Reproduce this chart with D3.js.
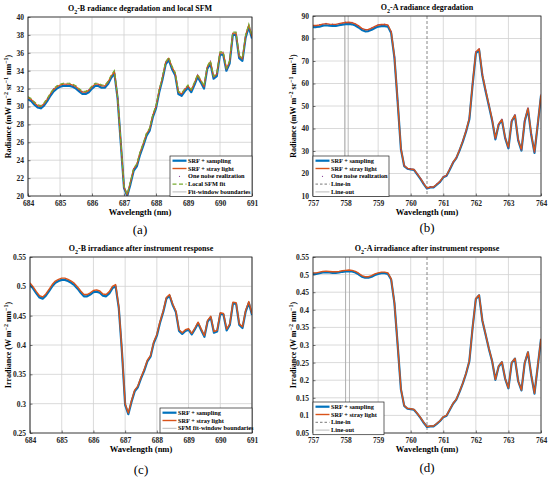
<!DOCTYPE html>
<html>
<head>
<meta charset="utf-8">
<script src="https://cdn.jsdelivr.net/npm/d3@7"></script>
<style>
body { margin: 0; background: #fff; }
text { font-family: "Liberation Serif", "Times New Roman", serif; }
</style>
</head>
<body>
<div id="wrapper"></div>
<script>
// wavelength grids (0.1 nm sampling)
const wlB = d3.range(0, 71).map(i => +(684 + i * 0.1).toFixed(1));
const wlA = d3.range(0, 71).map(i => +(757 + i * 0.1).toFixed(1));

// (a) O2-B radiance
const radB_sampling = [
    30.8,30.6,30.2,29.9,29.8,30.1,30.6,31.2,31.7,32.0,
    32.2,32.3,32.3,32.3,32.2,32.0,31.7,31.4,31.4,31.6,
    32.0,32.3,32.3,32.1,32.1,32.5,33.2,33.7,30.9,25.9,
    20.9,20.0,21.3,22.8,23.3,24.6,25.6,26.7,27.3,28.8,
    29.8,31.6,33.0,34.7,35.2,34.2,33.5,31.4,31.2,31.7,
    32.1,31.6,32.4,33.3,32.7,32.0,34.2,34.8,33.1,33.4,
    35.8,35.8,34.0,34.8,38.0,38.0,35.4,35.1,37.7,38.9,
    37.6];
const radB_stray = [
    31.0,30.8,30.4,30.1,30.0,30.3,30.8,31.4,31.9,32.2,
    32.4,32.5,32.5,32.5,32.4,32.2,31.9,31.6,31.6,31.8,
    32.2,32.5,32.5,32.3,32.3,32.7,33.4,33.9,31.0,26.0,
    21.0,20.1,21.5,23.0,23.5,24.8,25.8,26.9,27.5,29.0,
    30.0,31.8,33.2,34.9,35.4,34.4,33.7,31.6,31.4,31.9,
    32.3,31.8,32.6,33.5,32.9,32.2,34.4,35.0,33.3,33.6,
    36.0,36.0,34.2,35.0,38.2,38.2,35.6,35.3,37.9,39.1,
    37.8];
const radB_noise = [
    31.1,30.7,30.5,30.0,30.1,30.2,30.9,31.3,32.0,32.3,
    32.3,32.6,32.4,32.6,32.3,32.3,31.8,31.7,31.5,31.9,
    32.1,32.6,32.4,32.4,32.2,32.8,33.3,34.0,30.9,26.1,
    20.9,20.2,21.4,23.1,23.4,24.9,25.7,27.0,27.4,29.1,
    29.9,31.9,33.1,35.0,35.3,34.5,33.6,31.7,31.3,32.0,
    32.2,31.9,32.5,33.6,32.8,32.3,34.3,35.1,33.2,33.7,
    35.9,36.1,34.1,35.1,38.1,38.3,35.5,35.4,37.8,39.2,
    37.7];
const radB_sfm = [
    31.1,30.9,30.5,30.2,30.1,30.4,30.9,31.5,32.0,32.3,
    32.5,32.6,32.6,32.6,32.5,32.3,32.0,31.7,31.7,31.9,
    32.3,32.6,32.6,32.4,32.4,32.8,33.5,34.0,31.1,26.1,
    21.1,20.2,21.6,23.1,23.6,24.9,25.9,27.0,27.6,29.1,
    30.1,31.9,33.3,35.0,35.5,34.5,33.8,31.7,31.5,32.0,
    32.4,31.9,32.7,33.6,33.0,32.3,34.5,35.1,33.4,33.7,
    36.1,36.1,34.3,35.1,38.3,38.3,35.7,35.4,38.0,39.2,
    37.9];

// (b) O2-A radiance
const radA_sampling = [
    85.1,85.1,85.3,85.7,85.9,85.7,85.6,85.6,85.9,86.2,
    86.4,86.5,86.3,85.8,84.9,83.8,83.2,83.3,83.9,84.7,
    85.3,85.5,85.5,85.3,82.4,71.5,51.6,30.8,23.3,22.1,
    21.8,21.6,19.6,17.6,15.3,13.3,13.8,13.8,15.0,16.3,
    18.3,19.0,21.8,24.8,26.8,30.3,34.2,38.7,44.1,59.5,
    73.4,74.9,63.5,56.6,50.1,43.6,35.2,41.7,43.7,35.7,
    31.2,43.2,45.7,34.7,30.2,43.2,48.6,37.2,29.2,41.7,
    54.6];
const radA_stray = [
    85.8,85.8,86.0,86.4,86.6,86.4,86.3,86.3,86.6,86.9,
    87.1,87.2,87.0,86.5,85.6,84.5,83.9,84.0,84.6,85.4,
    86.0,86.2,86.2,86.0,83.0,72.0,52.0,31.0,23.5,22.3,
    22.0,21.8,19.8,17.8,15.5,13.5,14.0,14.0,15.2,16.5,
    18.5,19.2,22.0,25.0,27.0,30.5,34.5,39.0,44.5,60.0,
    74.0,75.5,64.0,57.0,50.5,44.0,35.5,42.0,44.0,36.0,
    31.5,43.5,46.0,35.0,30.5,43.5,49.0,37.5,29.5,42.0,
    55.0];
const radA_noise = [
    85.9,85.6,86.2,86.3,86.8,86.3,86.5,86.1,86.7,86.8,
    87.3,87.0,87.2,86.4,85.8,84.3,84.1,83.8,84.8,85.2,
    86.2,86.0,86.4,85.8,83.2,71.8,52.3,30.7,23.7,22.1,
    22.2,21.6,20.0,17.6,15.7,13.3,14.2,13.8,15.4,16.3,
    18.7,19.0,22.2,24.8,27.2,30.3,34.7,38.8,44.7,59.8,
    74.2,75.3,64.2,56.8,50.7,43.8,35.7,41.8,44.2,35.8,
    31.7,43.3,46.2,34.8,30.7,43.3,49.2,37.3,29.7,41.8,
    55.2];

// (c) O2-B irradiance
const irrB_sampling = [
    0.503,0.496,0.488,0.481,0.479,0.484,0.492,0.500,0.506,0.509,
    0.511,0.511,0.509,0.506,0.502,0.496,0.489,0.483,0.483,0.486,
    0.490,0.491,0.489,0.484,0.483,0.488,0.497,0.500,0.463,0.388,
    0.298,0.282,0.303,0.321,0.328,0.343,0.356,0.372,0.380,0.403,
    0.416,0.438,0.456,0.479,0.484,0.468,0.456,0.424,0.419,0.424,
    0.426,0.418,0.427,0.437,0.425,0.414,0.440,0.447,0.421,0.423,
    0.453,0.452,0.425,0.434,0.471,0.470,0.434,0.429,0.457,0.472,
    0.451];
const irrB_stray = [
    0.506,0.499,0.491,0.484,0.482,0.487,0.495,0.503,0.509,0.512,
    0.514,0.514,0.512,0.509,0.505,0.499,0.492,0.486,0.486,0.489,
    0.493,0.494,0.492,0.487,0.486,0.491,0.500,0.503,0.465,0.390,
    0.300,0.284,0.305,0.323,0.330,0.345,0.358,0.374,0.382,0.405,
    0.418,0.440,0.458,0.481,0.486,0.470,0.458,0.426,0.421,0.426,
    0.428,0.420,0.429,0.439,0.427,0.416,0.442,0.449,0.423,0.425,
    0.455,0.454,0.427,0.436,0.473,0.472,0.436,0.431,0.459,0.474,
    0.453];

// (d) O2-A irradiance
const irrA_sampling = [
    0.502,0.502,0.504,0.506,0.507,0.506,0.505,0.505,0.506,0.508,
    0.509,0.510,0.509,0.506,0.501,0.494,0.491,0.491,0.494,0.499,
    0.502,0.504,0.504,0.502,0.486,0.419,0.299,0.174,0.127,0.119,
    0.118,0.116,0.105,0.093,0.079,0.067,0.069,0.069,0.076,0.084,
    0.095,0.099,0.116,0.133,0.145,0.167,0.191,0.219,0.254,0.349,
    0.431,0.441,0.369,0.329,0.289,0.254,0.201,0.239,0.251,0.204,
    0.177,0.249,0.261,0.197,0.171,0.249,0.279,0.214,0.162,0.239,
    0.317];
const irrA_stray = [
    0.505,0.505,0.507,0.509,0.510,0.509,0.508,0.508,0.509,0.511,
    0.512,0.513,0.512,0.509,0.504,0.497,0.494,0.494,0.497,0.502,
    0.505,0.507,0.507,0.505,0.488,0.420,0.300,0.175,0.128,0.120,
    0.119,0.117,0.106,0.094,0.080,0.068,0.070,0.070,0.077,0.085,
    0.096,0.100,0.117,0.134,0.146,0.168,0.192,0.220,0.255,0.350,
    0.432,0.442,0.370,0.330,0.290,0.255,0.202,0.240,0.252,0.205,
    0.178,0.250,0.262,0.198,0.172,0.250,0.280,0.215,0.163,0.240,
    0.318];

const xTicksB = [684, 685, 686, 687, 688, 689, 690, 691];
const xTicksA = [757, 758, 759, 760, 761, 762, 763, 764];
const yTicksRadB = [20, 22, 24, 26, 28, 30, 32, 34, 36, 38, 40];
const yTicksRadA = [10, 20, 30, 40, 50, 60, 70, 80, 90];
const yTicksIrrB = [0.25, 0.3, 0.35, 0.4, 0.45, 0.5, 0.55];
const yTicksIrrA = [0.05, 0.1, 0.15, 0.2, 0.25, 0.3, 0.35, 0.4, 0.45, 0.5, 0.55];

const BLUE = "#0072BD", ORANGE = "#D95319", GREEN = "#77AC30", PURPLE = "#7E2F8E";

const svg = d3.select("#wrapper").append("svg")
    .attr("width", 550)
    .attr("height", 480);

function richText(sel, parts) {
    // parts: [text, "sub"|"sup"|null]
    let shift = 0;
    parts.forEach(p => {
        const t = sel.append("tspan").text(p[0]);
        let target = 0;
        if (p[1] === "sub") { target = 2.5; t.style("font-size", "0.75em"); }
        if (p[1] === "sup") { target = -3.5; t.style("font-size", "0.75em"); }
        t.attr("dy", target - shift);
        shift = target;
    });
}

function drawPanel(p, idx) {
    const g = svg.append("g");
    const x = d3.scaleLinear().domain(p.xDomain).range([p.left, p.right]);
    const y = d3.scaleLinear().domain(p.yDomain).range([p.bottom, p.top]);

    const clipId = "clip" + idx;
    g.append("clipPath").attr("id", clipId)
        .append("rect")
        .attr("x", p.left).attr("y", p.top)
        .attr("width", p.right - p.left).attr("height", p.bottom - p.top);

    // grid
    g.append("g").selectAll("line").data(p.xTicks).enter().append("line")
        .attr("x1", d => x(d)).attr("x2", d => x(d))
        .attr("y1", p.top).attr("y2", p.bottom)
        .attr("stroke", "#d0d0d0").attr("stroke-width", 0.8);
    g.append("g").selectAll("line").data(p.yTicks).enter().append("line")
        .attr("x1", p.left).attr("x2", p.right)
        .attr("y1", d => y(d)).attr("y2", d => y(d))
        .attr("stroke", "#d0d0d0").attr("stroke-width", 0.8);

    // reference lines
    g.append("g").selectAll("line").data(p.vlines).enter().append("line")
        .attr("x1", d => x(d.x)).attr("x2", d => x(d.x))
        .attr("y1", p.top).attr("y2", p.bottom)
        .attr("stroke", d => d.dash ? "#6a6a6a" : "#a8a8a8")
        .attr("stroke-width", 0.8)
        .attr("stroke-dasharray", d => d.dash ? "3,2" : null);

    const plot = g.append("g").attr("clip-path", `url(#${clipId})`);
    const line = d3.line().x(d => x(d[0])).y(d => y(d[1]));
    p.series.forEach(s => {
        plot.append("path")
            .datum(p.wl.map((w, i) => [w, s.values[i]]))
            .attr("d", line)
            .attr("fill", "none")
            .attr("stroke", s.color)
            .attr("stroke-width", s.width)
            .attr("stroke-linejoin", "round")
            .attr("stroke-dasharray", s.dash || null);
    });
    if (p.noise) {
        plot.append("g").selectAll("circle")
            .data(p.wl.map((w, i) => [w, p.noise[i]]))
            .enter().append("circle")
            .attr("cx", d => x(d[0])).attr("cy", d => y(d[1]))
            .attr("r", 0.5).attr("fill", PURPLE);
    }
    if (p.sfm) {
        plot.append("path")
            .datum(p.wl.map((w, i) => [w, p.sfm[i]]))
            .attr("d", line)
            .attr("fill", "none")
            .attr("stroke", GREEN)
            .attr("stroke-width", 1.2)
            .attr("stroke-dasharray", "4,2.5");
    }

    // axes
    const xAxis = d3.axisBottom(x).tickValues(p.xTicks).tickSize(-2.5).tickPadding(5).tickFormat(d3.format("d"));
    const yAxis = d3.axisLeft(y).tickValues(p.yTicks).tickSize(-2.5).tickPadding(4).tickFormat(d => String(+d.toFixed(2)));
    const gx = g.append("g").attr("transform", `translate(0,${p.bottom})`).call(xAxis);
    const gy = g.append("g").attr("transform", `translate(${p.left},0)`).call(yAxis);
    [gx, gy].forEach(a => {
        a.select(".domain").remove();
        a.selectAll("line").attr("stroke", "#222").attr("stroke-width", 0.6);
        a.selectAll("text").style("font-family", '"Liberation Serif", serif')
            .style("font-size", "7.5px").style("font-weight", "bold").attr("fill", "#222");
    });
    g.append("rect")
        .attr("x", p.left).attr("y", p.top)
        .attr("width", p.right - p.left).attr("height", p.bottom - p.top)
        .attr("fill", "none").attr("stroke", "#222").attr("stroke-width", 0.8);

    // title
    const title = g.append("text")
        .attr("x", (p.left + p.right) / 2).attr("y", p.top - 6)
        .attr("text-anchor", "middle")
        .style("font-size", "8px").style("font-weight", "bold");
    richText(title, p.title);

    // x label
    g.append("text")
        .attr("x", (p.left + p.right) / 2).attr("y", p.bottom + 19)
        .attr("text-anchor", "middle")
        .style("font-size", "8.5px").style("font-weight", "bold")
        .text("Wavelength (nm)");

    // y label
    const yl = g.append("text")
        .attr("transform", `translate(${p.ylabelX},${(p.top + p.bottom) / 2}) rotate(-90)`)
        .attr("text-anchor", "middle")
        .style("font-size", "8px").style("font-weight", "bold");
    richText(yl, p.ylabel);

    // legend
    const L = p.legend;
    const lg = g.append("g");
    lg.append("rect")
        .attr("x", L.x).attr("y", L.y)
        .attr("width", L.w).attr("height", L.items.length * 7.8 + 1.5)
        .attr("fill", "#fff").attr("stroke", "#222").attr("stroke-width", 0.7);
    L.items.forEach((it, i) => {
        const cy = L.y + 4.7 + i * 7.8;
        if (it.type === "dot") {
            lg.append("circle").attr("cx", L.x + 9.5).attr("cy", cy).attr("r", 0.6).attr("fill", PURPLE);
        } else {
            lg.append("line")
                .attr("x1", L.x + 2.5).attr("x2", L.x + 16.5)
                .attr("y1", cy).attr("y2", cy)
                .attr("stroke", it.color).attr("stroke-width", it.width)
                .attr("stroke-dasharray", it.dash || null);
        }
        lg.append("text")
            .attr("x", L.x + 18).attr("y", cy + 2.1)
            .style("font-size", "6.3px").style("font-weight", "bold")
            .text(it.label);
    });

    // panel tag
    g.append("text")
        .attr("x", (p.left + p.right) / 2).attr("y", p.tagY)
        .attr("text-anchor", "middle")
        .style("font-size", "13px")
        .text(p.tag);
}

const itemSampling = { label: "SRF + sampling", color: BLUE, width: 2.2 };
const itemStray = { label: "SRF + stray light", color: ORANGE, width: 1.4 };
const itemNoise = { label: "One noise realization", type: "dot" };
const itemLineIn = { label: "Line-in", color: "#555", width: 0.8, dash: "2.5,2" };
const itemLineOut = { label: "Line-out", color: "#a8a8a8", width: 0.8 };

const panels = [
    {
        left: 28, right: 252, top: 17, bottom: 196, tagY: 234,
        wl: wlB, xDomain: [684, 691], yDomain: [20, 40], xTicks: xTicksB, yTicks: yTicksRadB,
        series: [
            { values: radB_sampling, color: BLUE, width: 2.2 },
            { values: radB_stray, color: ORANGE, width: 1.3 }
        ],
        noise: radB_noise, sfm: radB_sfm,
        vlines: [{ x: 684 }, { x: 691 }],
        title: [["O", null], ["2", "sub"], ["-B radiance degradation and local SFM", null]],
        ylabel: [["Radiance (mW m", null], ["\u22122", "sup"], [" sr", null], ["\u22121", "sup"], [" nm", null], ["\u22121", "sup"], [")", null]],
        ylabelX: 11,
        legend: { x: 170, y: 156, w: 82, items: [itemSampling, itemStray, itemNoise,
            { label: "Local SFM fit", color: GREEN, width: 1.2, dash: "4,2.5" },
            { label: "Fit-window boundaries", color: "#a8a8a8", width: 0.8 }] },
        tag: "(a)"
    },
    {
        left: 313, right: 541, top: 16, bottom: 196, tagY: 232,
        wl: wlA, xDomain: [757, 764], yDomain: [10, 90], xTicks: xTicksA, yTicks: yTicksRadA,
        series: [
            { values: radA_sampling, color: BLUE, width: 2.2 },
            { values: radA_stray, color: ORANGE, width: 1.4 }
        ],
        noise: radA_noise,
        vlines: [{ x: 757.97 }, { x: 758.08 }, { x: 760.5, dash: true }],
        title: [["O", null], ["2", "sub"], ["-A radiance degradation", null]],
        ylabel: [["Radiance (mW m", null], ["\u22122", "sup"], [" sr", null], ["\u22121", "sup"], [" nm", null], ["\u22121", "sup"], [")", null]],
        ylabelX: 296,
        legend: { x: 313, y: 156, w: 76, items: [itemSampling, itemStray, itemNoise, itemLineIn, itemLineOut] },
        tag: "(b)"
    },
    {
        left: 30, right: 252, top: 257, bottom: 433, tagY: 474,
        wl: wlB, xDomain: [684, 691], yDomain: [0.25, 0.55], xTicks: xTicksB, yTicks: yTicksIrrB,
        series: [
            { values: irrB_sampling, color: BLUE, width: 2.2 },
            { values: irrB_stray, color: ORANGE, width: 1.4 }
        ],
        vlines: [{ x: 684 }, { x: 691 }],
        title: [["O", null], ["2", "sub"], ["-B irradiance after instrument response", null]],
        ylabel: [["Irradiance (W m", null], ["\u22122", "sup"], [" nm", null], ["\u22121", "sup"], [")", null]],
        ylabelX: 11,
        legend: { x: 160, y: 408, w: 92, items: [itemSampling, itemStray,
            { label: "SFM fit-window boundaries", color: "#a8a8a8", width: 0.8 }] },
        tag: "(c)"
    },
    {
        left: 313, right: 541, top: 257, bottom: 433, tagY: 472,
        wl: wlA, xDomain: [757, 764], yDomain: [0.05, 0.55], xTicks: xTicksA, yTicks: yTicksIrrA,
        series: [
            { values: irrA_sampling, color: BLUE, width: 2.2 },
            { values: irrA_stray, color: ORANGE, width: 1.4 }
        ],
        vlines: [{ x: 758.0 }, { x: 758.12 }, { x: 760.5, dash: true }],
        title: [["O", null], ["2", "sub"], ["-A irradiance after instrument response", null]],
        ylabel: [["Irradiance (W m", null], ["\u22122", "sup"], [" nm", null], ["\u22121", "sup"], [")", null]],
        ylabelX: 296,
        legend: { x: 313, y: 402, w: 71, items: [itemSampling, itemStray, itemLineIn, itemLineOut] },
        tag: "(d)"
    }
];

panels.forEach((p, i) => drawPanel(p, i));
</script>
</body>
</html>
